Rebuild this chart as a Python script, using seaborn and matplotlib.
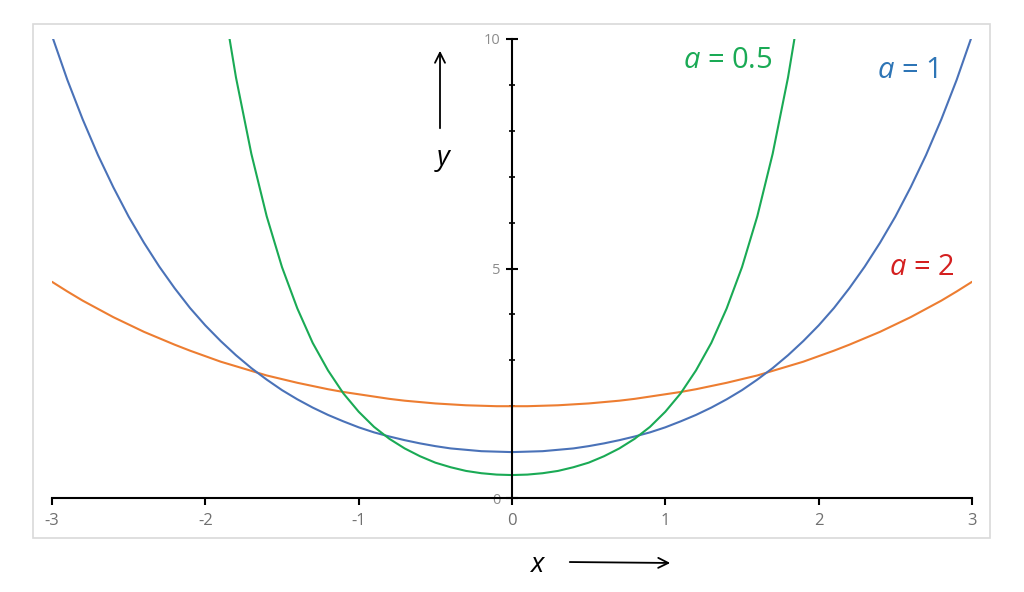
import numpy as np
import matplotlib
matplotlib.use("Agg")
import matplotlib.pyplot as plt
import seaborn as sns
from matplotlib.patches import Rectangle
from matplotlib.ticker import MultipleLocator

# sample positions along x
x_full = np.round(np.arange(-30, 31) * 0.1, 1)
x_green = np.round(np.arange(-19, 20) * 0.1, 1)

# values
y_a1 = [10.07, 9.11, 8.25, 7.47, 6.77, 6.13, 5.56, 5.04, 4.57, 4.14,
        3.76, 3.42, 3.11, 2.83, 2.58, 2.35, 2.15, 1.97, 1.81, 1.67,
        1.54, 1.43, 1.34, 1.26, 1.19, 1.13, 1.08, 1.05, 1.02, 1.01,
        1.00,
        1.01, 1.02, 1.05, 1.08, 1.13, 1.19, 1.26, 1.34, 1.43, 1.54,
        1.67, 1.81, 1.97, 2.15, 2.35, 2.58, 2.83, 3.11, 3.42, 3.76,
        4.14, 4.57, 5.04, 5.56, 6.13, 6.77, 7.47, 8.25, 9.11, 10.07]

y_a2 = [4.71, 4.50, 4.30, 4.12, 3.94, 3.78, 3.62, 3.48, 3.34, 3.21,
        3.09, 2.97, 2.87, 2.77, 2.67, 2.59, 2.51, 2.44, 2.37, 2.31,
        2.26, 2.21, 2.16, 2.12, 2.09, 2.06, 2.04, 2.02, 2.01, 2.00,
        2.00,
        2.00, 2.01, 2.02, 2.04, 2.06, 2.09, 2.12, 2.16, 2.21, 2.26,
        2.31, 2.37, 2.44, 2.51, 2.59, 2.67, 2.77, 2.87, 2.97, 3.09,
        3.21, 3.34, 3.48, 3.62, 3.78, 3.94, 4.12, 4.30, 4.50, 4.71]

y_a05 = [11.17, 9.16, 7.50, 6.14, 5.03, 4.13, 3.38, 2.78, 2.28, 1.88,
         1.55, 1.29, 1.08, 0.91, 0.77, 0.67, 0.59, 0.54, 0.51,
         0.50,
         0.51, 0.54, 0.59, 0.67, 0.77, 0.91, 1.08, 1.29, 1.55, 1.88,
         2.28, 2.78, 3.38, 4.13, 5.03, 6.14, 7.50, 9.16, 11.17]

x_ticks = [-3, -2, -1, 0, 1, 2, 3]
y_ticks = [0, 5, 10]

sns.set_theme(style="white")
plt.rcParams["font.family"] = ["Open Sans", "DejaVu Sans"]
plt.rcParams["mathtext.fontset"] = "custom"
plt.rcParams["mathtext.rm"] = "Open Sans"
plt.rcParams["mathtext.it"] = "Open Sans:italic"

fig = plt.figure(figsize=(10.24, 5.92), dpi=100)
ax = fig.add_axes([52 / 1024, 1 - 498 / 592, 920 / 1024, 459 / 592])

sns.lineplot(x=x_full, y=y_a2, color="#ED7D31", lw=1.5, ax=ax, sort=False, estimator=None)
sns.lineplot(x=x_full, y=y_a1, color="#4A72B8", lw=1.5, ax=ax, sort=False, estimator=None)
sns.lineplot(x=x_green, y=y_a05, color="#1AAA55", lw=1.5, ax=ax, sort=False, estimator=None)

ax.set_xlim(-3, 3)
ax.set_ylim(0, 10)
ax.set_xlabel("")
ax.set_ylabel("")

for s in ["top", "right"]:
    ax.spines[s].set_visible(False)
for s in ["left", "bottom"]:
    ax.spines[s].set_color("black")
    ax.spines[s].set_linewidth(1.5)
ax.spines["left"].set_position(("data", 0))
ax.spines["bottom"].set_position(("data", 0))

ax.set_xticks(x_ticks)
ax.set_xticklabels([str(t) for t in x_ticks])
ax.set_yticks(y_ticks)
ax.set_yticklabels([str(t) for t in y_ticks])
ax.yaxis.set_minor_locator(MultipleLocator(1))

ax.tick_params(axis="x", which="major", direction="out", length=5, width=1.5,
               color="black", labelsize=12, labelcolor="#707070", pad=6, bottom=True)
ax.tick_params(axis="y", which="major", direction="inout", length=9, width=1.5,
               color="black", labelsize=10.5, labelcolor="#8c8c8c", pad=4, left=True)
ax.tick_params(axis="y", which="minor", direction="inout", length=5, width=1.2,
               color="black", left=True)

# curve labels
fig.text(728 / 1024, 1 - 61 / 592, "$a$ = 0.5", color="#1AAA55", fontsize=21,
         ha="center", va="center")
fig.text(907 / 1024, 1 - 70 / 592, "$a$ = 1", color="#2E75B6", fontsize=21,
         ha="center", va="center")
fig.text(922 / 1024, 1 - 268 / 592, "$a$ = 2", color="#D42020", fontsize=21,
         ha="center", va="center")

# axis names with arrows
fig.text(443 / 1024, 1 - 160 / 592, "$y$", color="black", fontsize=20,
         ha="center", va="center")
fig.text(538 / 1024, 1 - 565 / 592, "$x$", color="black", fontsize=20,
         ha="center", va="center")
ax.annotate("", xy=(440, 592 - 48), xycoords="figure pixels",
            xytext=(440, 592 - 131), textcoords="figure pixels",
            arrowprops=dict(arrowstyle="->", color="black", lw=1.3, mutation_scale=18),
            annotation_clip=False)
ax.annotate("", xy=(673, 592 - 563), xycoords="figure pixels",
            xytext=(567, 592 - 562), textcoords="figure pixels",
            arrowprops=dict(arrowstyle="->", color="black", lw=1.3, mutation_scale=18),
            annotation_clip=False)

# light chart border
fig.patches.append(Rectangle((33 / 1024, 1 - 538 / 592), 957 / 1024, 514 / 592,
                             transform=fig.transFigure, fill=False,
                             edgecolor="#d9d9d9", lw=1.2, zorder=0))

fig.savefig("out.png", dpi=100)
